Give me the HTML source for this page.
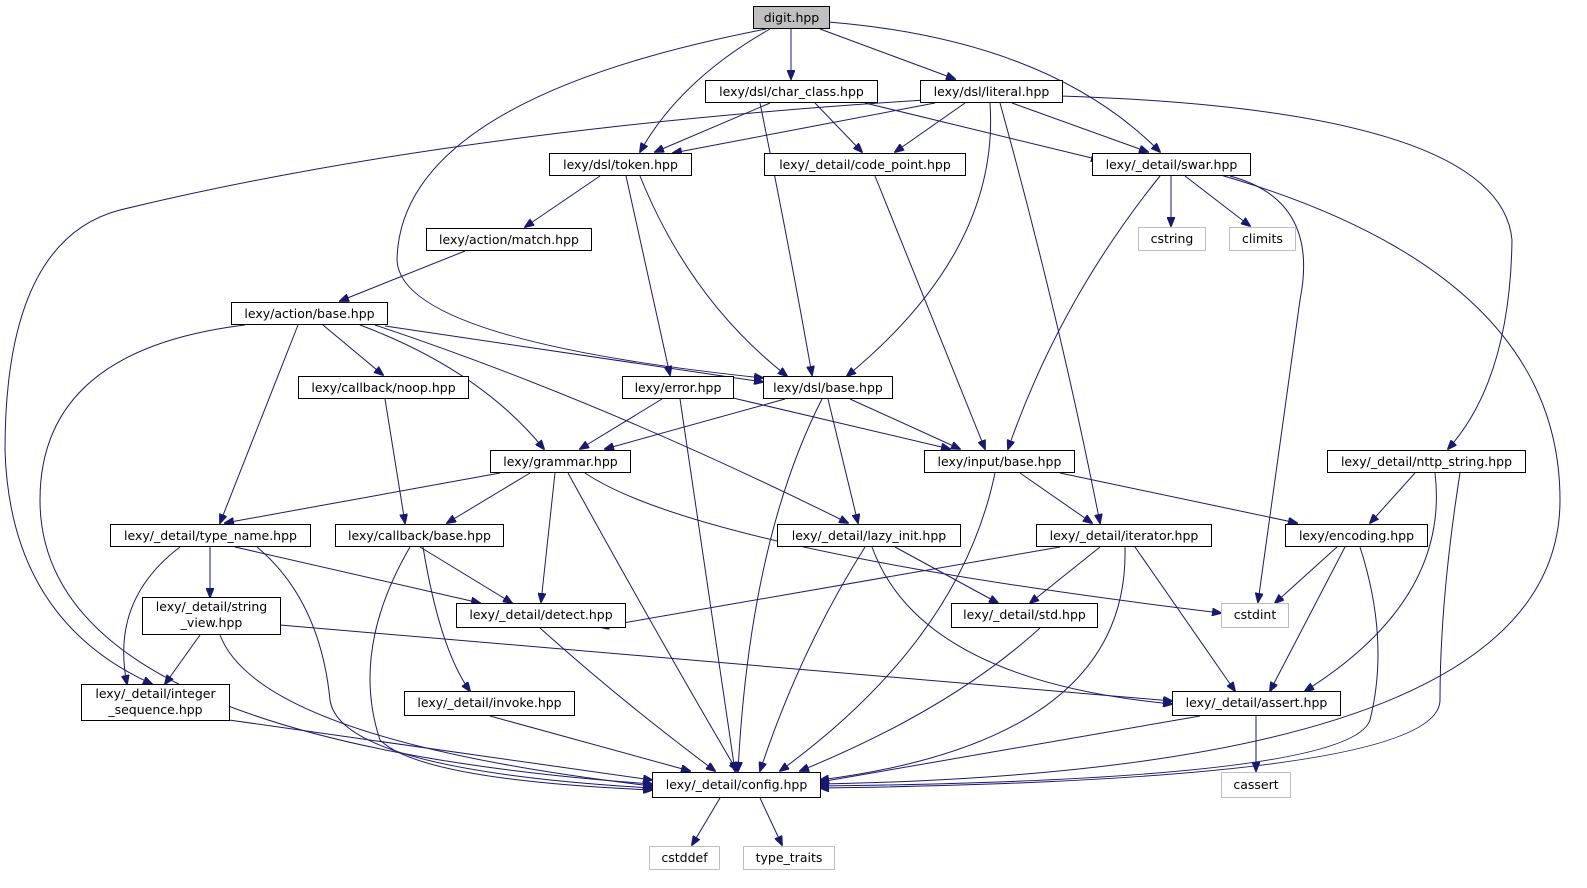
<!DOCTYPE html>
<html><head><meta charset="utf-8"><style>
html,body{margin:0;padding:0;background:#fff;}
svg{display:block;}
text{font-family:"DejaVu Sans","Liberation Sans",sans-serif;font-size:12.5px;fill:#000;}
.n{fill:#fff;stroke:#000;stroke-width:1;}
.g{fill:#fff;stroke:#bfbfbf;stroke-width:1;}
.e{fill:none;stroke:#191970;stroke-width:1;marker-end:url(#a);}
</style></head><body>
<svg width="1587" height="888" viewBox="0 0 1587 888" xmlns="http://www.w3.org/2000/svg">
<defs><marker id="a" markerWidth="10" markerHeight="8" refX="9" refY="4" orient="auto" markerUnits="userSpaceOnUse"><path d="M0,0 L10,4 L0,8 z" fill="#191970" stroke="#191970"/></marker></defs>
<g>
<!-- digit -->
<path class="e" d="M766,29 Q400,100 397,260 Q400,340 763,378"/>
<path class="e" d="M770,29 Q680,80 640,152"/>
<path class="e" d="M791,29 L791,79"/>
<path class="e" d="M820,29 L955,79"/>
<path class="e" d="M828,22 Q1050,40 1160,152"/>
<!-- char_class -->
<path class="e" d="M770,103 L655,152"/>
<path class="e" d="M815,103 L862,152"/>
<path class="e" d="M760,103 Q790,250 812,375"/>
<path class="e" d="M865,103 L1100,160"/>
<!-- literal -->
<path class="e" d="M925,100 Q450,130 120,210 Q5,240 5,450 Q10,620 152,684"/>
<path class="e" d="M935,103 L673,153"/>
<path class="e" d="M965,103 L895,152"/>
<path class="e" d="M1012,103 L1148,152"/>
<path class="e" d="M1060,96 Q1500,110 1512,240 Q1510,380 1448,449"/>
<path class="e" d="M990,103 Q1000,250 847,376"/>
<path class="e" d="M1000,103 Q1060,320 1100,523"/>
<!-- token -->
<path class="e" d="M600,176 L525,227"/>
<path class="e" d="M626,176 L670,375"/>
<path class="e" d="M640,176 Q690,300 787,376"/>
<!-- code_point -->
<path class="e" d="M875,176 L985,449"/>
<!-- swar -->
<path class="e" d="M1171,176 L1171,226"/>
<path class="e" d="M1185,176 L1250,226"/>
<path class="e" d="M1160,176 Q1060,300 1008,449"/>
<path class="e" d="M1230,176 Q1320,200 1300,300 L1258,602"/>
<path class="e" d="M1210,172 Q1560,270 1560,500 Q1560,770 820,784"/>
<!-- match -->
<path class="e" d="M465,251 L340,301"/>
<!-- action/base -->
<path class="e" d="M245,325 Q40,350 40,500 Q40,740 652,784"/>
<path class="e" d="M298,325 L220,523"/>
<path class="e" d="M323,325 L383,375"/>
<path class="e" d="M360,325 Q480,370 544,449"/>
<path class="e" d="M375,325 Q600,400 848,523"/>
<path class="e" d="M385,326 L763,382"/>
<!-- noop -->
<path class="e" d="M385,399 L405,523"/>
<!-- error -->
<path class="e" d="M662,399 L580,449"/>
<path class="e" d="M680,399 L735,771"/>
<path class="e" d="M733,398 L950,449"/>
<!-- dsl/base -->
<path class="e" d="M785,399 L605,449"/>
<path class="e" d="M850,399 L960,449"/>
<path class="e" d="M822,399 Q750,540 738,771"/>
<path class="e" d="M828,399 L858,523"/>
<!-- grammar -->
<path class="e" d="M500,473 L225,523"/>
<path class="e" d="M530,473 L447,523"/>
<path class="e" d="M555,473 L541,602"/>
<path class="e" d="M568,473 Q660,640 737,771"/>
<path class="e" d="M585,473 Q700,550 1221,613"/>
<!-- input/base -->
<path class="e" d="M995,473 Q960,640 780,771"/>
<path class="e" d="M1020,473 L1092,523"/>
<path class="e" d="M1060,473 L1297,523"/>
<!-- nttp -->
<path class="e" d="M1415,473 L1370,523"/>
<path class="e" d="M1435,473 Q1450,600 1305,691"/>
<path class="e" d="M1460,473 Q1440,600 1440,700 Q1440,780 820,788"/>
<!-- type_name -->
<path class="e" d="M210,547 L210,597"/>
<path class="e" d="M180,547 Q110,600 127,684"/>
<path class="e" d="M235,547 L480,603"/>
<path class="e" d="M257,547 Q320,600 330,700 Q340,770 652,788"/>
<!-- callback/base -->
<path class="e" d="M420,547 L512,603"/>
<path class="e" d="M423,547 Q440,650 470,691"/>
<path class="e" d="M410,547 Q350,650 380,740 Q420,780 652,790"/>
<!-- lazy_init -->
<path class="e" d="M865,547 Q800,650 760,771"/>
<path class="e" d="M895,547 L998,603"/>
<path class="e" d="M872,547 Q920,680 1172,704"/>
<!-- iterator -->
<path class="e" d="M1060,547 L600,627"/>
<path class="e" d="M1100,547 L1030,603"/>
<path class="e" d="M1125,547 Q1130,740 820,780"/>
<path class="e" d="M1135,547 L1235,691"/>
<!-- encoding -->
<path class="e" d="M1337,547 L1275,603"/>
<path class="e" d="M1345,547 L1270,691"/>
<path class="e" d="M1360,547 Q1390,640 1370,720 Q1350,780 820,786"/>
<!-- string_view -->
<path class="e" d="M200,635 L165,684"/>
<path class="e" d="M220,635 Q260,740 652,786"/>
<path class="e" d="M280,625 L1172,701"/>
<!-- detect, std, intseq, invoke, assert -->
<path class="e" d="M540,628 Q620,700 715,771"/>
<path class="e" d="M1040,628 Q950,710 800,771"/>
<path class="e" d="M229,720 L652,780"/>
<path class="e" d="M490,716 L690,771"/>
<path class="e" d="M1200,716 L820,782"/>
<path class="e" d="M1256,716 L1256,771"/>
<!-- config -->
<path class="e" d="M720,798 L692,845"/>
<path class="e" d="M760,798 L782,845"/>
</g>
<g>
<rect x="753.5" y="6.5" width="76" height="22" fill="#bfbfbf" stroke="#000"/><text x="791.5" y="22" text-anchor="middle">digit.hpp</text>
<rect class="n" x="705.5" y="80.5" width="172" height="22"/><text x="791.5" y="96" text-anchor="middle">lexy/dsl/char_class.hpp</text>
<rect class="n" x="920.5" y="80.5" width="142" height="22"/><text x="991.5" y="96" text-anchor="middle">lexy/dsl/literal.hpp</text>
<rect class="n" x="549.5" y="153.5" width="142" height="22"/><text x="620.5" y="169" text-anchor="middle">lexy/dsl/token.hpp</text>
<rect class="n" x="764.5" y="153.5" width="201" height="22"/><text x="865" y="169" text-anchor="middle">lexy/_detail/code_point.hpp</text>
<rect class="n" x="1092.5" y="153.5" width="158" height="22"/><text x="1171.5" y="169" text-anchor="middle">lexy/_detail/swar.hpp</text>
<rect class="g" x="1138.5" y="227.5" width="67" height="23"/><text x="1172" y="243" text-anchor="middle">cstring</text>
<rect class="g" x="1229.5" y="227.5" width="66" height="23"/><text x="1262.5" y="243" text-anchor="middle">climits</text>
<rect class="n" x="426.5" y="228.5" width="165" height="22"/><text x="509" y="244" text-anchor="middle">lexy/action/match.hpp</text>
<rect class="n" x="231.5" y="302.5" width="156" height="22"/><text x="309.5" y="318" text-anchor="middle">lexy/action/base.hpp</text>
<rect class="n" x="298.5" y="376.5" width="170" height="22"/><text x="383.5" y="392" text-anchor="middle">lexy/callback/noop.hpp</text>
<rect class="n" x="622.5" y="376.5" width="111" height="22"/><text x="678" y="392" text-anchor="middle">lexy/error.hpp</text>
<rect class="n" x="763.5" y="376.5" width="129" height="22"/><text x="828" y="392" text-anchor="middle">lexy/dsl/base.hpp</text>
<rect class="n" x="490.5" y="450.5" width="140" height="22"/><text x="560.5" y="466" text-anchor="middle">lexy/grammar.hpp</text>
<rect class="n" x="924.5" y="450.5" width="150" height="22"/><text x="999.5" y="466" text-anchor="middle">lexy/input/base.hpp</text>
<rect class="n" x="1327.5" y="450.5" width="198" height="22"/><text x="1426.5" y="466" text-anchor="middle">lexy/_detail/nttp_string.hpp</text>
<rect class="n" x="110.5" y="524.5" width="200" height="22"/><text x="210.5" y="540" text-anchor="middle">lexy/_detail/type_name.hpp</text>
<rect class="n" x="335.5" y="524.5" width="168" height="22"/><text x="419.5" y="540" text-anchor="middle">lexy/callback/base.hpp</text>
<rect class="n" x="777.5" y="524.5" width="183" height="22"/><text x="869" y="540" text-anchor="middle">lexy/_detail/lazy_init.hpp</text>
<rect class="n" x="1036.5" y="524.5" width="175" height="22"/><text x="1124" y="540" text-anchor="middle">lexy/_detail/iterator.hpp</text>
<rect class="n" x="1285.5" y="524.5" width="142" height="22"/><text x="1356.5" y="540" text-anchor="middle">lexy/encoding.hpp</text>
<rect class="n" x="142.5" y="597.5" width="138" height="37"/><text x="211.5" y="611" text-anchor="middle">lexy/_detail/string</text><text x="211.5" y="627" text-anchor="middle">_view.hpp</text>
<rect class="n" x="456.5" y="603.5" width="169" height="24"/><text x="541" y="619" text-anchor="middle">lexy/_detail/detect.hpp</text>
<rect class="n" x="951.5" y="603.5" width="146" height="24"/><text x="1024.5" y="619" text-anchor="middle">lexy/_detail/std.hpp</text>
<rect class="g" x="1221.5" y="603.5" width="67" height="24"/><text x="1255" y="619" text-anchor="middle">cstdint</text>
<rect class="n" x="81.5" y="684.5" width="148" height="36"/><text x="155.5" y="698" text-anchor="middle">lexy/_detail/integer</text><text x="155.5" y="714" text-anchor="middle">_sequence.hpp</text>
<rect class="n" x="404.5" y="691.5" width="170" height="24"/><text x="489.5" y="707" text-anchor="middle">lexy/_detail/invoke.hpp</text>
<rect class="n" x="1172.5" y="691.5" width="168" height="24"/><text x="1256.5" y="707" text-anchor="middle">lexy/_detail/assert.hpp</text>
<rect class="n" x="652.5" y="772.5" width="168" height="25"/><text x="736.5" y="789" text-anchor="middle">lexy/_detail/config.hpp</text>
<rect class="g" x="1221.5" y="772.5" width="69" height="25"/><text x="1256" y="789" text-anchor="middle">cassert</text>
<rect class="g" x="649.5" y="846.5" width="70" height="23"/><text x="684.5" y="862" text-anchor="middle">cstddef</text>
<rect class="g" x="743.5" y="846.5" width="91" height="23"/><text x="789" y="862" text-anchor="middle">type_traits</text>
</g>
</svg>
</body></html>
